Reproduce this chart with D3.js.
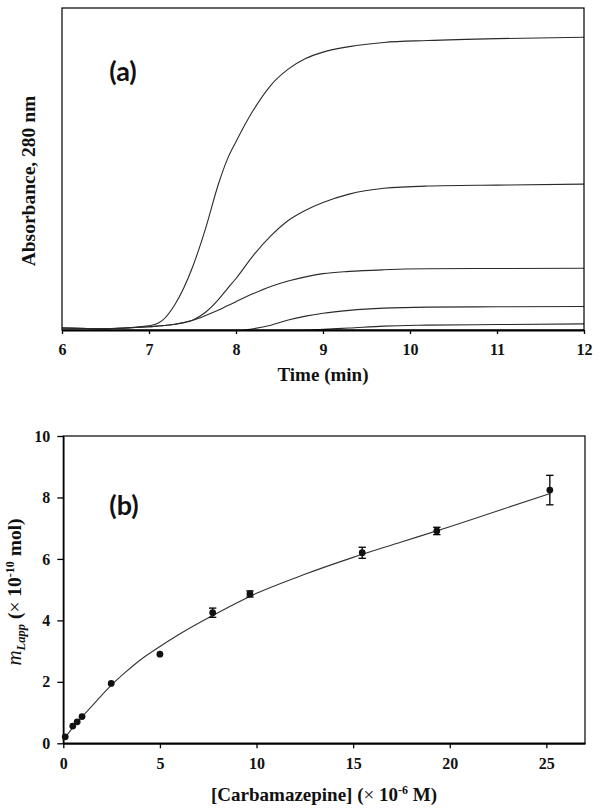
<!DOCTYPE html>
<html>
<head>
<meta charset="utf-8">
<script src="https://cdn.jsdelivr.net/npm/d3@7"></script>
<style>
  html, body { margin: 0; padding: 0; background: #fff; }
  svg { display: block; }
</style>
</head>
<body>
<svg id="chart" width="602" height="809"></svg>
<script>
// ---------- Panel (a): absorbance vs time ----------
const timeGrid = [6, 6.5, 7, 7.15, 7.3, 7.5, 7.65, 7.8, 7.9, 8.0, 8.2, 8.4, 8.6, 8.8, 9.0, 9.3, 9.7, 10.2, 11, 12];
const absCurve1 = [0.006, 0.004, 0.013, 0.029, 0.08, 0.195, 0.315, 0.455, 0.53, 0.585, 0.683, 0.76, 0.81, 0.843, 0.863, 0.88, 0.893, 0.899, 0.905, 0.909];
const absCurve2 = [0.006, 0.004, 0.010, 0.013, 0.018, 0.030, 0.055, 0.095, 0.128, 0.160, 0.232, 0.292, 0.340, 0.372, 0.396, 0.422, 0.440, 0.447, 0.450, 0.453];
const absCurve3 = [0.006, 0.004, 0.010, 0.013, 0.018, 0.030, 0.045, 0.062, 0.075, 0.088, 0.113, 0.135, 0.152, 0.165, 0.175, 0.182, 0.187, 0.190, 0.191, 0.192];
const absCurve4 = [-0.003, -0.004, -0.004, -0.004, -0.004, -0.004, -0.004, -0.004, -0.004, -0.003, 0.004, 0.015, 0.031, 0.043, 0.052, 0.061, 0.068, 0.071, 0.072, 0.073];
const absCurve5 = [-0.003, -0.004, -0.004, -0.004, -0.004, -0.004, -0.004, -0.004, -0.004, -0.004, -0.004, -0.004, -0.003, -0.001, 0.002, 0.006, 0.012, 0.015, 0.017, 0.019];
const timeTicks = [6, 7, 8, 9, 10, 11, 12];

// ---------- Panel (b): m_Lapp vs [Carbamazepine] ----------
const concValues = [0.1, 0.49, 0.72, 0.97, 2.48, 5.0, 7.73, 9.66, 15.47, 19.33, 25.18];
const mLappValues = [0.21, 0.56, 0.70, 0.87, 1.95, 2.9, 4.25, 4.86, 6.2, 6.91, 8.24];
const mLappErrors = [0, 0, 0, 0, 0, 0, 0.15, 0.1, 0.18, 0.12, 0.48];
const fitConc = [0.05, 0.5, 1, 1.75, 2.5, 3.25, 4, 5, 6, 8, 10, 12.5, 15, 17.5, 20, 22.5, 25.2];
const fitMLapp = [0.15, 0.52, 0.88, 1.4, 1.9, 2.33, 2.72, 3.15, 3.55, 4.25, 4.88, 5.5, 6.05, 6.55, 7.05, 7.57, 8.13];
const concTicks = [0, 5, 10, 15, 20, 25];
const mTicks = [0, 2, 4, 6, 8, 10];

const svg = d3.select("#chart");
const serif = '"Liberation Serif", "Times New Roman", serif';
const sans = 'Lato, "Open Sans", "Liberation Sans", sans-serif';

function styleAxis(g) {
  g.attr("font-family", serif).attr("font-size", 16).attr("font-weight", "bold");
  g.selectAll(".tick text").attr("fill", "#111");
  g.selectAll(".tick line").attr("stroke-width", 1.3);
}

// ===== Panel (a) =====
const xA = d3.scaleLinear().domain([6, 12]).range([62, 584]);
const yA = d3.scaleLinear().domain([0, 1]).range([330, 8]);

svg.append("defs").append("clipPath").attr("id", "clipA")
  .append("rect").attr("x", xA(6)).attr("y", yA(1)).attr("width", xA(12) - xA(6)).attr("height", yA(0) - yA(1) + 0.5);

const gA = svg.append("g");
const lineA = d3.line().x(d => xA(d[0])).y(d => yA(d[1])).curve(d3.curveMonotoneX);
[absCurve1, absCurve2, absCurve3, absCurve4, absCurve5].forEach(vals => {
  gA.append("path")
    .datum(timeGrid.map((t, i) => [t, vals[i]]))
    .attr("clip-path", "url(#clipA)")
    .attr("fill", "none")
    .attr("stroke", "#2a2a2a")
    .attr("stroke-width", 1.1)
    .attr("d", lineA);
});

gA.append("rect").attr("x", xA(6)).attr("y", yA(1)).attr("width", xA(12) - xA(6)).attr("height", yA(0) - yA(1))
  .attr("fill", "none").attr("stroke", "#000").attr("stroke-width", 1.2);

const axA = gA.append("g").attr("transform", `translate(0,${yA(0)})`)
  .call(d3.axisBottom(xA).tickValues(timeTicks).tickSize(4).tickSizeOuter(0).tickPadding(10).tickFormat(d3.format("d")))
  .call(styleAxis);
axA.select(".domain").attr("stroke-width", 2);

gA.append("text").attr("x", 323).attr("y", 381).attr("text-anchor", "middle")
  .attr("font-family", serif).attr("font-weight", "bold").attr("font-size", 19).attr("fill", "#111")
  .text("Time (min)");

gA.append("text").attr("transform", "translate(35,181) rotate(-90)").attr("text-anchor", "middle")
  .attr("font-family", serif).attr("font-weight", "bold").attr("font-size", 19.5).attr("fill", "#111")
  .text("Absorbance, 280 nm");

gA.append("text").attr("x", 123).attr("y", 81).attr("text-anchor", "middle")
  .attr("font-family", sans).attr("font-weight", "bold").attr("font-size", 27).attr("fill", "#111")
  .text("(a)");

// ===== Panel (b) =====
const xB = d3.scaleLinear().domain([0, 27]).range([63.3, 585]);
const yB = d3.scaleLinear().domain([0, 10]).range([743.3, 436]);
const gB = svg.append("g");

gB.append("rect").attr("x", xB(0)).attr("y", yB(10)).attr("width", xB(27) - xB(0)).attr("height", yB(0) - yB(10))
  .attr("fill", "none").attr("stroke", "#000").attr("stroke-width", 1.2);

const axBx = gB.append("g").attr("transform", `translate(0,${yB(0)})`)
  .call(d3.axisBottom(xB).tickValues(concTicks).tickSize(5).tickSizeOuter(0).tickPadding(9).tickFormat(d3.format("d")))
  .call(styleAxis);
axBx.select(".domain").attr("stroke-width", 2);
const axBy = gB.append("g").attr("transform", `translate(${xB(0)},0)`)
  .call(d3.axisLeft(yB).tickValues(mTicks).tickSize(6).tickSizeOuter(0).tickPadding(7).tickFormat(d3.format("d")))
  .call(styleAxis);
axBy.select(".domain").attr("stroke-width", 1.5);

// fit line
gB.append("path")
  .datum(fitConc.map((c, i) => [c, fitMLapp[i]]))
  .attr("fill", "none").attr("stroke", "#333").attr("stroke-width", 1.1)
  .attr("d", d3.line().x(d => xB(d[0])).y(d => yB(d[1])).curve(d3.curveMonotoneX));

// error bars
const pts = concValues.map((c, i) => ({ c, m: mLappValues[i], e: mLappErrors[i] }));
const eb = gB.selectAll(".eb").data(pts.filter(d => d.e > 0)).join("g").attr("class", "eb");
eb.append("line").attr("x1", d => xB(d.c)).attr("x2", d => xB(d.c))
  .attr("y1", d => yB(d.m - d.e)).attr("y2", d => yB(d.m + d.e)).attr("stroke", "#000").attr("stroke-width", 1.3);
eb.append("line").attr("x1", d => xB(d.c) - 3.7).attr("x2", d => xB(d.c) + 3.7)
  .attr("y1", d => yB(d.m - d.e)).attr("y2", d => yB(d.m - d.e)).attr("stroke", "#000").attr("stroke-width", 1.3);
eb.append("line").attr("x1", d => xB(d.c) - 3.7).attr("x2", d => xB(d.c) + 3.7)
  .attr("y1", d => yB(d.m + d.e)).attr("y2", d => yB(d.m + d.e)).attr("stroke", "#000").attr("stroke-width", 1.3);

gB.selectAll(".pt").data(pts).join("circle").attr("class", "pt")
  .attr("cx", d => xB(d.c)).attr("cy", d => yB(d.m)).attr("r", 3.4).attr("fill", "#111");

// x label
const xl = gB.append("text").attr("x", 324).attr("y", 801).attr("text-anchor", "middle")
  .attr("font-family", serif).attr("font-weight", "bold").attr("font-size", 19).attr("fill", "#111");
xl.append("tspan").text("[Carbamazepine] (");
xl.append("tspan").attr("font-weight", "normal").text("×");
xl.append("tspan").text(" 10");
xl.append("tspan").attr("font-size", 12).attr("dy", -7).text("-6");
xl.append("tspan").attr("dy", 7).text(" M)");

// y label
const yl = gB.append("text").attr("transform", "translate(21,592) rotate(-90)").attr("text-anchor", "middle")
  .attr("font-family", serif).attr("font-weight", "bold").attr("font-size", 19.5).attr("fill", "#111");
yl.append("tspan").attr("font-style", "italic").attr("font-weight", "normal").attr("font-size", 21).text("m");
yl.append("tspan").attr("font-style", "italic").attr("font-size", 12.5).attr("dy", 4).text("Lapp");
yl.append("tspan").attr("dy", -4).text(" (");
yl.append("tspan").attr("font-weight", "normal").text("×");
yl.append("tspan").text(" 10");
yl.append("tspan").attr("font-size", 12).attr("dy", -7).text("-10");
yl.append("tspan").attr("dy", 7).text(" mol)");

gB.append("text").attr("x", 124).attr("y", 515).attr("text-anchor", "middle")
  .attr("font-family", sans).attr("font-weight", "bold").attr("font-size", 27).attr("fill", "#111")
  .text("(b)");
</script>
</body>
</html>
